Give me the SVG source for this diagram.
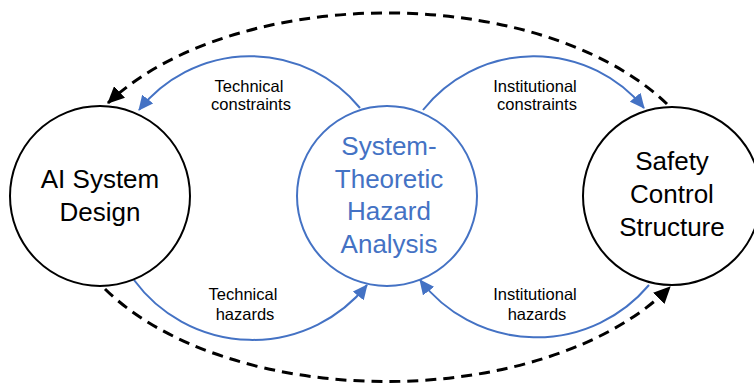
<svg xmlns="http://www.w3.org/2000/svg" width="754" height="385" viewBox="0 0 754 385">
  <style>
    .node-black { fill: #ffffff; stroke: #000000; stroke-width: 2; }
    .node-blue { fill: #ffffff; stroke: #4472C4; stroke-width: 2; }
    .title { font-family: "Liberation Sans", Arial, sans-serif; font-size: 26px; text-anchor: middle; fill: #000000; }
    .title-blue { fill: #4472C4; }
    .label { font-family: "Liberation Sans", Arial, sans-serif; font-size: 16.5px; text-anchor: middle; fill: #000000; }
    .blue-arc { fill: none; stroke: #4472C4; stroke-width: 2; }
    .dash-arc { fill: none; stroke: #000000; stroke-width: 3; stroke-dasharray: 11 7; }
  </style>
  <defs>
    <marker id="arrowBlue" markerUnits="userSpaceOnUse" markerWidth="16" markerHeight="14" refX="14" refY="7" orient="auto">
      <path d="M0,0 L15,7 L0,14 z" fill="#4472C4"/>
    </marker>
    <marker id="arrowBlack" markerUnits="userSpaceOnUse" markerWidth="18" markerHeight="16" refX="16" refY="8" orient="auto">
      <path d="M0,0 L17,8 L0,16 z" fill="#000000"/>
    </marker>
  </defs>

  <rect width="754" height="385" fill="#ffffff"/>

  <g id="connectors">
    <path class="dash-arc" d="M 667 104 A 325 185 0 0 0 108 103" marker-end="url(#arrowBlack)"/>
    <path class="dash-arc" d="M 105 289 A 325 185 0 0 0 670 287" marker-end="url(#arrowBlack)"/>
    <path class="blue-arc" d="M 360 108 A 142 142 0 0 0 139 110" marker-end="url(#arrowBlue)"/>
    <path class="blue-arc" d="M 423 110 A 142 142 0 0 1 644 108" marker-end="url(#arrowBlue)"/>
    <path class="blue-arc" d="M 134 280 A 147 147 0 0 0 367 285" marker-end="url(#arrowBlue)"/>
    <path class="blue-arc" d="M 649 285 A 147 147 0 0 1 420 280" marker-end="url(#arrowBlue)"/>
    <text class="label" x="249" y="92">Technical</text>
    <text class="label" x="251" y="110">constraints</text>
    <text class="label" x="535" y="92">Institutional</text>
    <text class="label" x="537" y="110">constraints</text>
    <text class="label" x="243" y="300">Technical</text>
    <text class="label" x="245" y="320">hazards</text>
    <text class="label" x="535" y="300">Institutional</text>
    <text class="label" x="537" y="320">hazards</text>
  </g>

  <g id="ai-system-design">
    <circle class="node-black" cx="100" cy="196" r="90"/>
    <text class="title" x="100" y="188">AI System</text>
    <text class="title" x="100" y="221">Design</text>
  </g>

  <g id="stpa">
    <circle class="node-blue" cx="387" cy="196" r="90"/>
    <text class="title title-blue" x="389" y="155">System-</text>
    <text class="title title-blue" x="389" y="188">Theoretic</text>
    <text class="title title-blue" x="389" y="220">Hazard</text>
    <text class="title title-blue" x="389" y="253">Analysis</text>
  </g>

  <g id="safety-control-structure">
    <circle class="node-black" cx="672" cy="196" r="89"/>
    <text class="title" x="672" y="170">Safety</text>
    <text class="title" x="672" y="203">Control</text>
    <text class="title" x="672" y="236">Structure</text>
  </g>
</svg>
